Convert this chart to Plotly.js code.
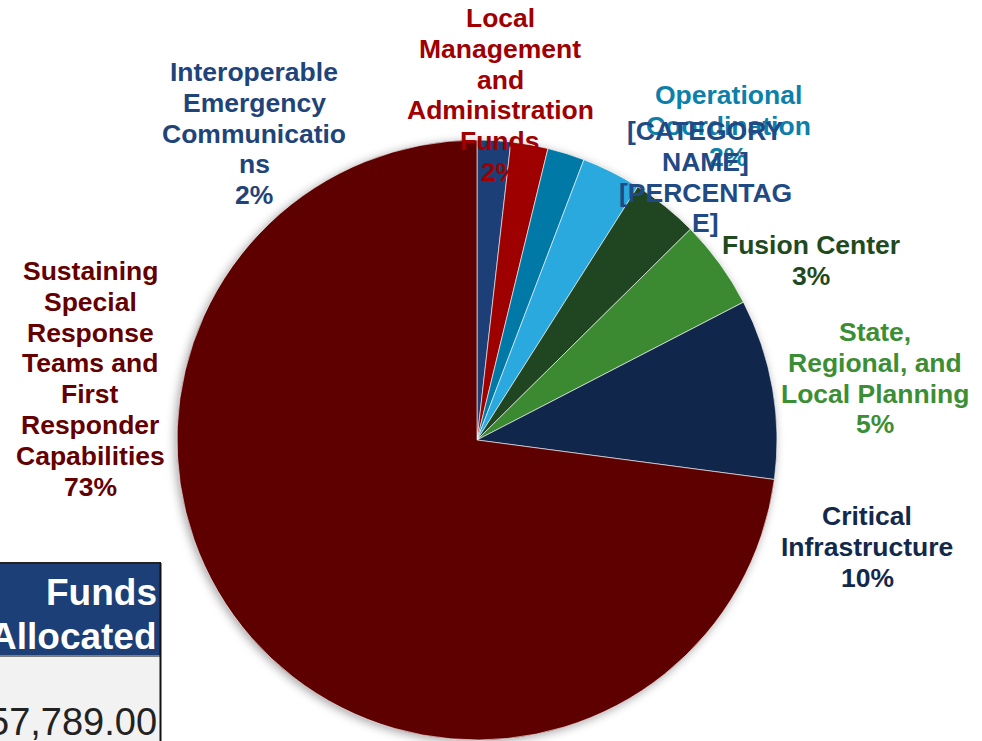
<!DOCTYPE html>
<html>
<head>
<meta charset="utf-8">
<script src="https://cdn.plot.ly/plotly-3.0.1.min.js"></script>
<style>
  html, body { margin: 0; padding: 0; background: #ffffff; }
  #chart { width: 982px; height: 741px; }
  .pielayer .trace { filter: drop-shadow(-2px 2px 5px rgba(0,0,0,0.35)); }
</style>
</head>
<body>
<div id="chart"></div>
<script>
// ---- Data ----
const categories = [
  "Interoperable Emergency Communications",
  "Local Management and Administration Funds",
  "Operational Coordination",
  "[CATEGORY NAME]",
  "Fusion Center",
  "State, Regional, and Local Planning",
  "Critical Infrastructure",
  "Sustaining Special Response Teams and First Responder Capabilities"
];
const shares = [1.8, 2.0, 2.0, 3.2, 3.6, 4.8, 9.7, 72.9];
const pctLabels = ["2%", "2%", "2%", "[PERCENTAGE]", "3%", "5%", "10%", "73%"];
// wrapped label text as shown in the chart
const wrappedLabels = [
  "Interoperable<br>Emergency<br>Communicatio<br>ns<br>2%",
  "Local<br>Management<br>and<br>Administration<br>Funds<br>2%",
  "Operational<br>Coordination<br>2%",
  "[CATEGORY<br>NAME]<br>[PERCENTAG<br>E]",
  "Fusion Center<br>3%",
  "State,<br>Regional, and<br>Local Planning<br>5%",
  "Critical<br>Infrastructure<br>10%",
  "Sustaining<br>Special<br>Response<br>Teams and<br>First<br>Responder<br>Capabilities<br>73%"
];
const tableHeader = ["Funds", "Allocated"];
const tableValue = "57,789.00";

// ---- Styles / layout positions ----
const sliceColors = ["#1B3F76", "#9E0000", "#0079A6", "#29A9DE", "#1F4620", "#3B8A32", "#10264A", "#5E0000"];
const labelColors = ["#1F4479", "#A00000", "#0A80AA", "#1F4A85", "#1F4A1E", "#3C8E35", "#13294B", "#640000"];
const labelX =    [254, 500, 728, 705, 811, 875, 867, 90];   // px, center
const labelTopY = [72, 18, 95, 131, 245, 332, 516, 271];     // px, center of first line
const lineStep = 30.8;
const W = 982, H = 741;
const px = x => x / W;
const py = y => 1 - y / H;

const annotations = [];
wrappedLabels.forEach((t, i) => {
  t.split("<br>").forEach((line, j) => {
    annotations.push({
      xref: "paper", yref: "paper",
      x: px(labelX[i]), y: py(labelTopY[i] + j * lineStep),
      xanchor: "center", yanchor: "middle",
      text: "<b>" + line + "</b>", showarrow: false,
      font: { family: "Liberation Sans, Arial, sans-serif", size: 26.5, color: labelColors[i] }
    });
  });
});
// table fragment
tableHeader.forEach((t, j) => {
  annotations.push({
    xref: "paper", yref: "paper", x: px(159), y: py(592 + j * 44),
    xanchor: "right", yanchor: "middle", showarrow: false,
    text: "<b>" + t + "</b>",
    font: { family: "Liberation Sans, Arial, sans-serif", size: 37, color: "#ffffff" }
  });
});
annotations.push({
  xref: "paper", yref: "paper", x: px(159), y: py(722),
  xanchor: "right", yanchor: "middle", showarrow: false,
  text: tableValue,
  font: { family: "Liberation Sans, Arial, sans-serif", size: 38, color: "#222222" }
});

const shapes = [
  { type: "rect", xref: "paper", yref: "paper", x0: px(-2), x1: px(160), y0: py(655), y1: py(563),
    fillcolor: "#1B3F76", line: { width: 0 }, layer: "below" },
  { type: "rect", xref: "paper", yref: "paper", x0: px(-2), x1: px(160), y0: py(745), y1: py(657),
    fillcolor: "#F2F2F2", line: { width: 0 }, layer: "below" },
  { type: "line", xref: "paper", yref: "paper", x0: px(0), x1: px(161), y0: py(563), y1: py(563),
    line: { color: "#222222", width: 2 } },
  { type: "line", xref: "paper", yref: "paper", x0: px(0), x1: px(161), y0: py(656), y1: py(656),
    line: { color: "#555555", width: 1.5 } },
  { type: "line", xref: "paper", yref: "paper", x0: px(160.5), x1: px(160.5), y0: py(563), y1: py(745),
    line: { color: "#111111", width: 2 } }
];

const trace = {
  type: "pie",
  labels: categories,
  values: shares,
  text: pctLabels,
  sort: false,
  direction: "clockwise",
  rotation: 0,
  textinfo: "none",
  hoverinfo: "label+text",
  marker: { colors: sliceColors, line: { color: "#ffffff", width: 0.6 } },
  domain: { x: [px(177), px(777)], y: [py(740), py(140)] },
  showlegend: false
};

const layout = {
  width: W, height: H,
  margin: { l: 0, r: 0, t: 0, b: 0 },
  paper_bgcolor: "#ffffff",
  showlegend: false,
  annotations: annotations,
  shapes: shapes
};

Plotly.newPlot("chart", [trace], layout, { displayModeBar: false, staticPlot: true });
</script>
</body>
</html>
